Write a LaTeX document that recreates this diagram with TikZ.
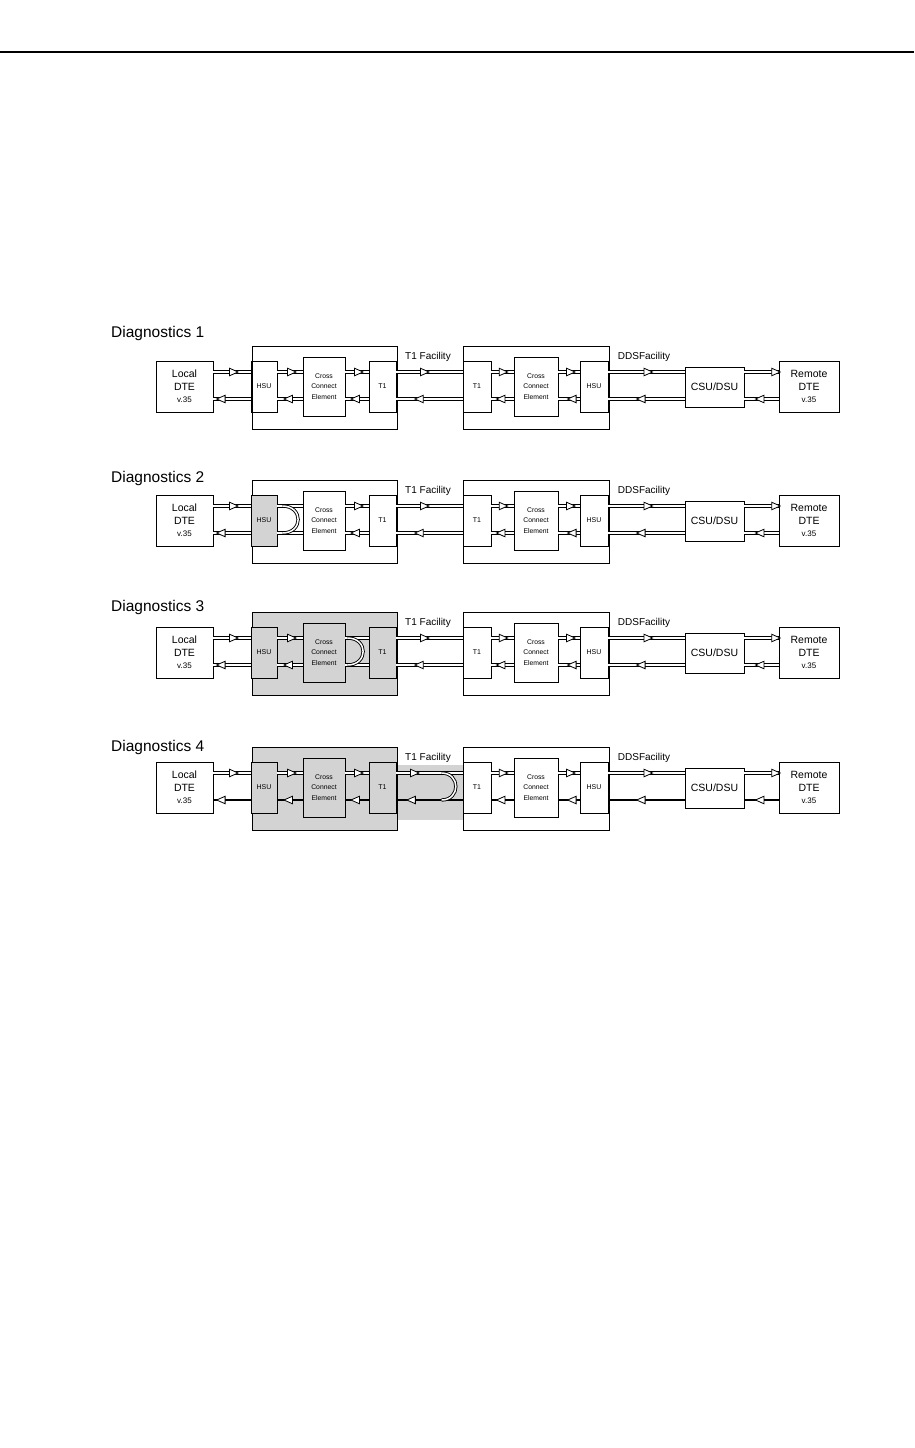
\documentclass[tikz,border=0pt]{standalone}
\usepackage{fontspec}
\setmainfont{Liberation Sans}
\usepackage{tikz}
\usetikzlibrary{shapes.geometric}
\usepackage{xcolor}
\definecolor{loopgray}{HTML}{D3D3D3}

\tikzset{
  unit/.style={draw, line width=0.8pt, inner sep=0pt, align=center, font=\fontsize{10.5}{12.5}\selectfont},
  smalltxt/.style={font=\fontsize{7}{8}\selectfont},
  tinytxt/.style={font=\fontsize{6.8}{10.5}\selectfont},
  rowlabel/.style={anchor=west, inner sep=0pt, font=\fontsize{15.5}{18}\selectfont},
  faclabel/.style={inner sep=0pt, font=\fontsize{10}{12}\selectfont},
  dbl/.style={draw, line width=0.9pt, double=white, double distance=1.5pt},
  thk/.style={draw, line width=2.2pt},
  rtri/.style={isosceles triangle, isosceles triangle stretches, draw, fill=white,
    line width=0.8pt, inner sep=0pt, minimum width=7.5pt, minimum height=8.5pt},
  ltri/.style={rtri, shape border rotate=180},
  notri/.style={draw=none, fill=none},
  % what changes from one row to the next
  lex/.style={}, lsub/.style={}, lhsu/.style={lsub}, band/.style={},
  low/.style={dbl}, hc/.style={}, ct/.style={},
  facu/.style={pos=.4}, facd/.style={pos=.37}
}

% one row: #1 number, #2 top of the exchange boxes, #3 label height, #4 row styles
\newcommand{\diagrow}[4]{%
  \node[rowlabel] (lab#1) at (111,#3) {Diagnostics #1};
  \begin{scope}[shift={(0,#2)},#4]
    \coordinate (up#1) at (0,26);
    \coordinate (dn#1) at (0,53);
    \path[band] (397,18) rectangle (463,73);
    % local end
    \node[unit, minimum width=57pt, minimum height=51pt] (dte#1) at (184.5,40.5)
      {Local\\DTE\\{\fontsize{8}{12}\selectfont v.35}};
    \node[unit, lex, minimum width=145pt, minimum height=83pt] (exl#1) at (324.5,41.5) {};
    \node[unit, lhsu, smalltxt, minimum width=26pt, minimum height=51pt] (hsul#1) at (264,40.5) {HSU};
    \node[unit, lsub, tinytxt, minimum width=42pt, minimum height=59pt] (ccel#1) at (324,40.5)
      {Cross\\Connect\\Element};
    \node[unit, lsub, smalltxt, minimum width=27pt, minimum height=51pt] (t1l#1) at (382.5,40.5) {T1};
    % remote end
    \node[unit, minimum width=146pt, minimum height=83pt] (exr#1) at (536,41.5) {};
    \node[unit, smalltxt, minimum width=28pt, minimum height=51pt] (t1r#1) at (477,40.5) {T1};
    \node[unit, tinytxt, minimum width=44pt, minimum height=59pt] (ccer#1) at (536,40.5)
      {Cross\\Connect\\Element};
    \node[unit, smalltxt, minimum width=28pt, minimum height=51pt] (hsur#1) at (594,40.5) {HSU};
    \node[unit, minimum width=59pt, minimum height=40pt] (csu#1) at (714.5,41) {CSU/DSU};
    \node[unit, minimum width=60pt, minimum height=51pt] (rdte#1) at (809,40.5)
      {Remote\\DTE\\{\fontsize{8}{12}\selectfont v.35}};
    \node[faclabel] (t1fac#1) at (428,11) {T1 Facility};
    \node[faclabel] (ddsfac#1) at (644,11) {DDSFacility};
    % transmit side
    \draw[dbl] (dte#1.east|-up#1) -- node[rtri]{} (hsul#1.west|-up#1);
    \draw[dbl] (hsul#1.east|-up#1) -- node[rtri,hc]{} (ccel#1.west|-up#1);
    \draw[dbl] (ccel#1.east|-up#1) -- node[rtri,ct]{} (t1l#1.west|-up#1);
    \draw[dbl] (t1l#1.east|-up#1) -- node[rtri,facu]{} (t1r#1.west|-up#1);
    \draw[dbl] (t1r#1.east|-up#1) -- node[rtri,pos=.46]{} (ccer#1.west|-up#1);
    \draw[dbl] (ccer#1.east|-up#1) -- node[rtri]{} (hsur#1.west|-up#1);
    \draw[dbl] (hsur#1.east|-up#1) -- node[rtri]{} (csu#1.west|-up#1);
    \draw[dbl] (csu#1.east|-up#1) -- node[rtri,pos=.87]{} (rdte#1.west|-up#1);
    % receive side
    \draw[low] (dte#1.east|-dn#1) -- node[ltri,pos=.25]{} (hsul#1.west|-dn#1);
    \draw[low] (hsul#1.east|-dn#1) -- node[ltri,hc]{} (ccel#1.west|-dn#1);
    \draw[low] (ccel#1.east|-dn#1) -- node[ltri,ct]{} (t1l#1.west|-dn#1);
    \draw[low] (t1l#1.east|-dn#1) -- node[ltri,facd]{} (t1r#1.west|-dn#1);
    \draw[low] (t1r#1.east|-dn#1) -- node[ltri]{} (ccer#1.west|-dn#1);
    \draw[low] (ccer#1.east|-dn#1) -- node[ltri,pos=.72]{} (hsur#1.west|-dn#1);
    \draw[low] (hsur#1.east|-dn#1) -- node[ltri,pos=.45]{} (csu#1.west|-dn#1);
    \draw[low] (csu#1.east|-dn#1) -- node[ltri,pos=.5]{} (rdte#1.west|-dn#1);
  \end{scope}}

\begin{document}
\begin{tikzpicture}[x=1pt, y=-1pt]
  \useasboundingbox (0,0) rectangle (914,1448);
  % page rule
  \draw[line width=1.8pt] (0,52) -- (914,52);

  \diagrow{1}{346}{333}{}
  \diagrow{2}{480}{478}{lhsu/.style={fill=loopgray}, hc/.style={notri}}
  \diagrow{3}{612}{607}{lex/.style={fill=loopgray}, lsub/.style={fill=loopgray}, ct/.style={notri}}
  \diagrow{4}{747}{747}{lex/.style={fill=loopgray}, lsub/.style={fill=loopgray},
    band/.style={fill=loopgray}, low/.style={thk}, facu/.style={pos=.25}, facd/.style={pos=.25}}

  % loopbacks
  \draw[dbl] ([xshift=5pt]hsul2.east|-up2) .. controls +(21,0) and +(21,0) .. ([xshift=5pt]hsul2.east|-dn2);
  \draw[dbl] ([xshift=2pt]ccel3.east|-up3) .. controls +(21,0) and +(21,0) .. ([xshift=2pt]ccel3.east|-dn3);
  \draw[dbl] ([xshift=-21pt]t1r4.west|-up4) .. controls +(19,0) and +(19,0) .. ([xshift=-21pt]t1r4.west|-dn4);
\end{tikzpicture}
\end{document}
